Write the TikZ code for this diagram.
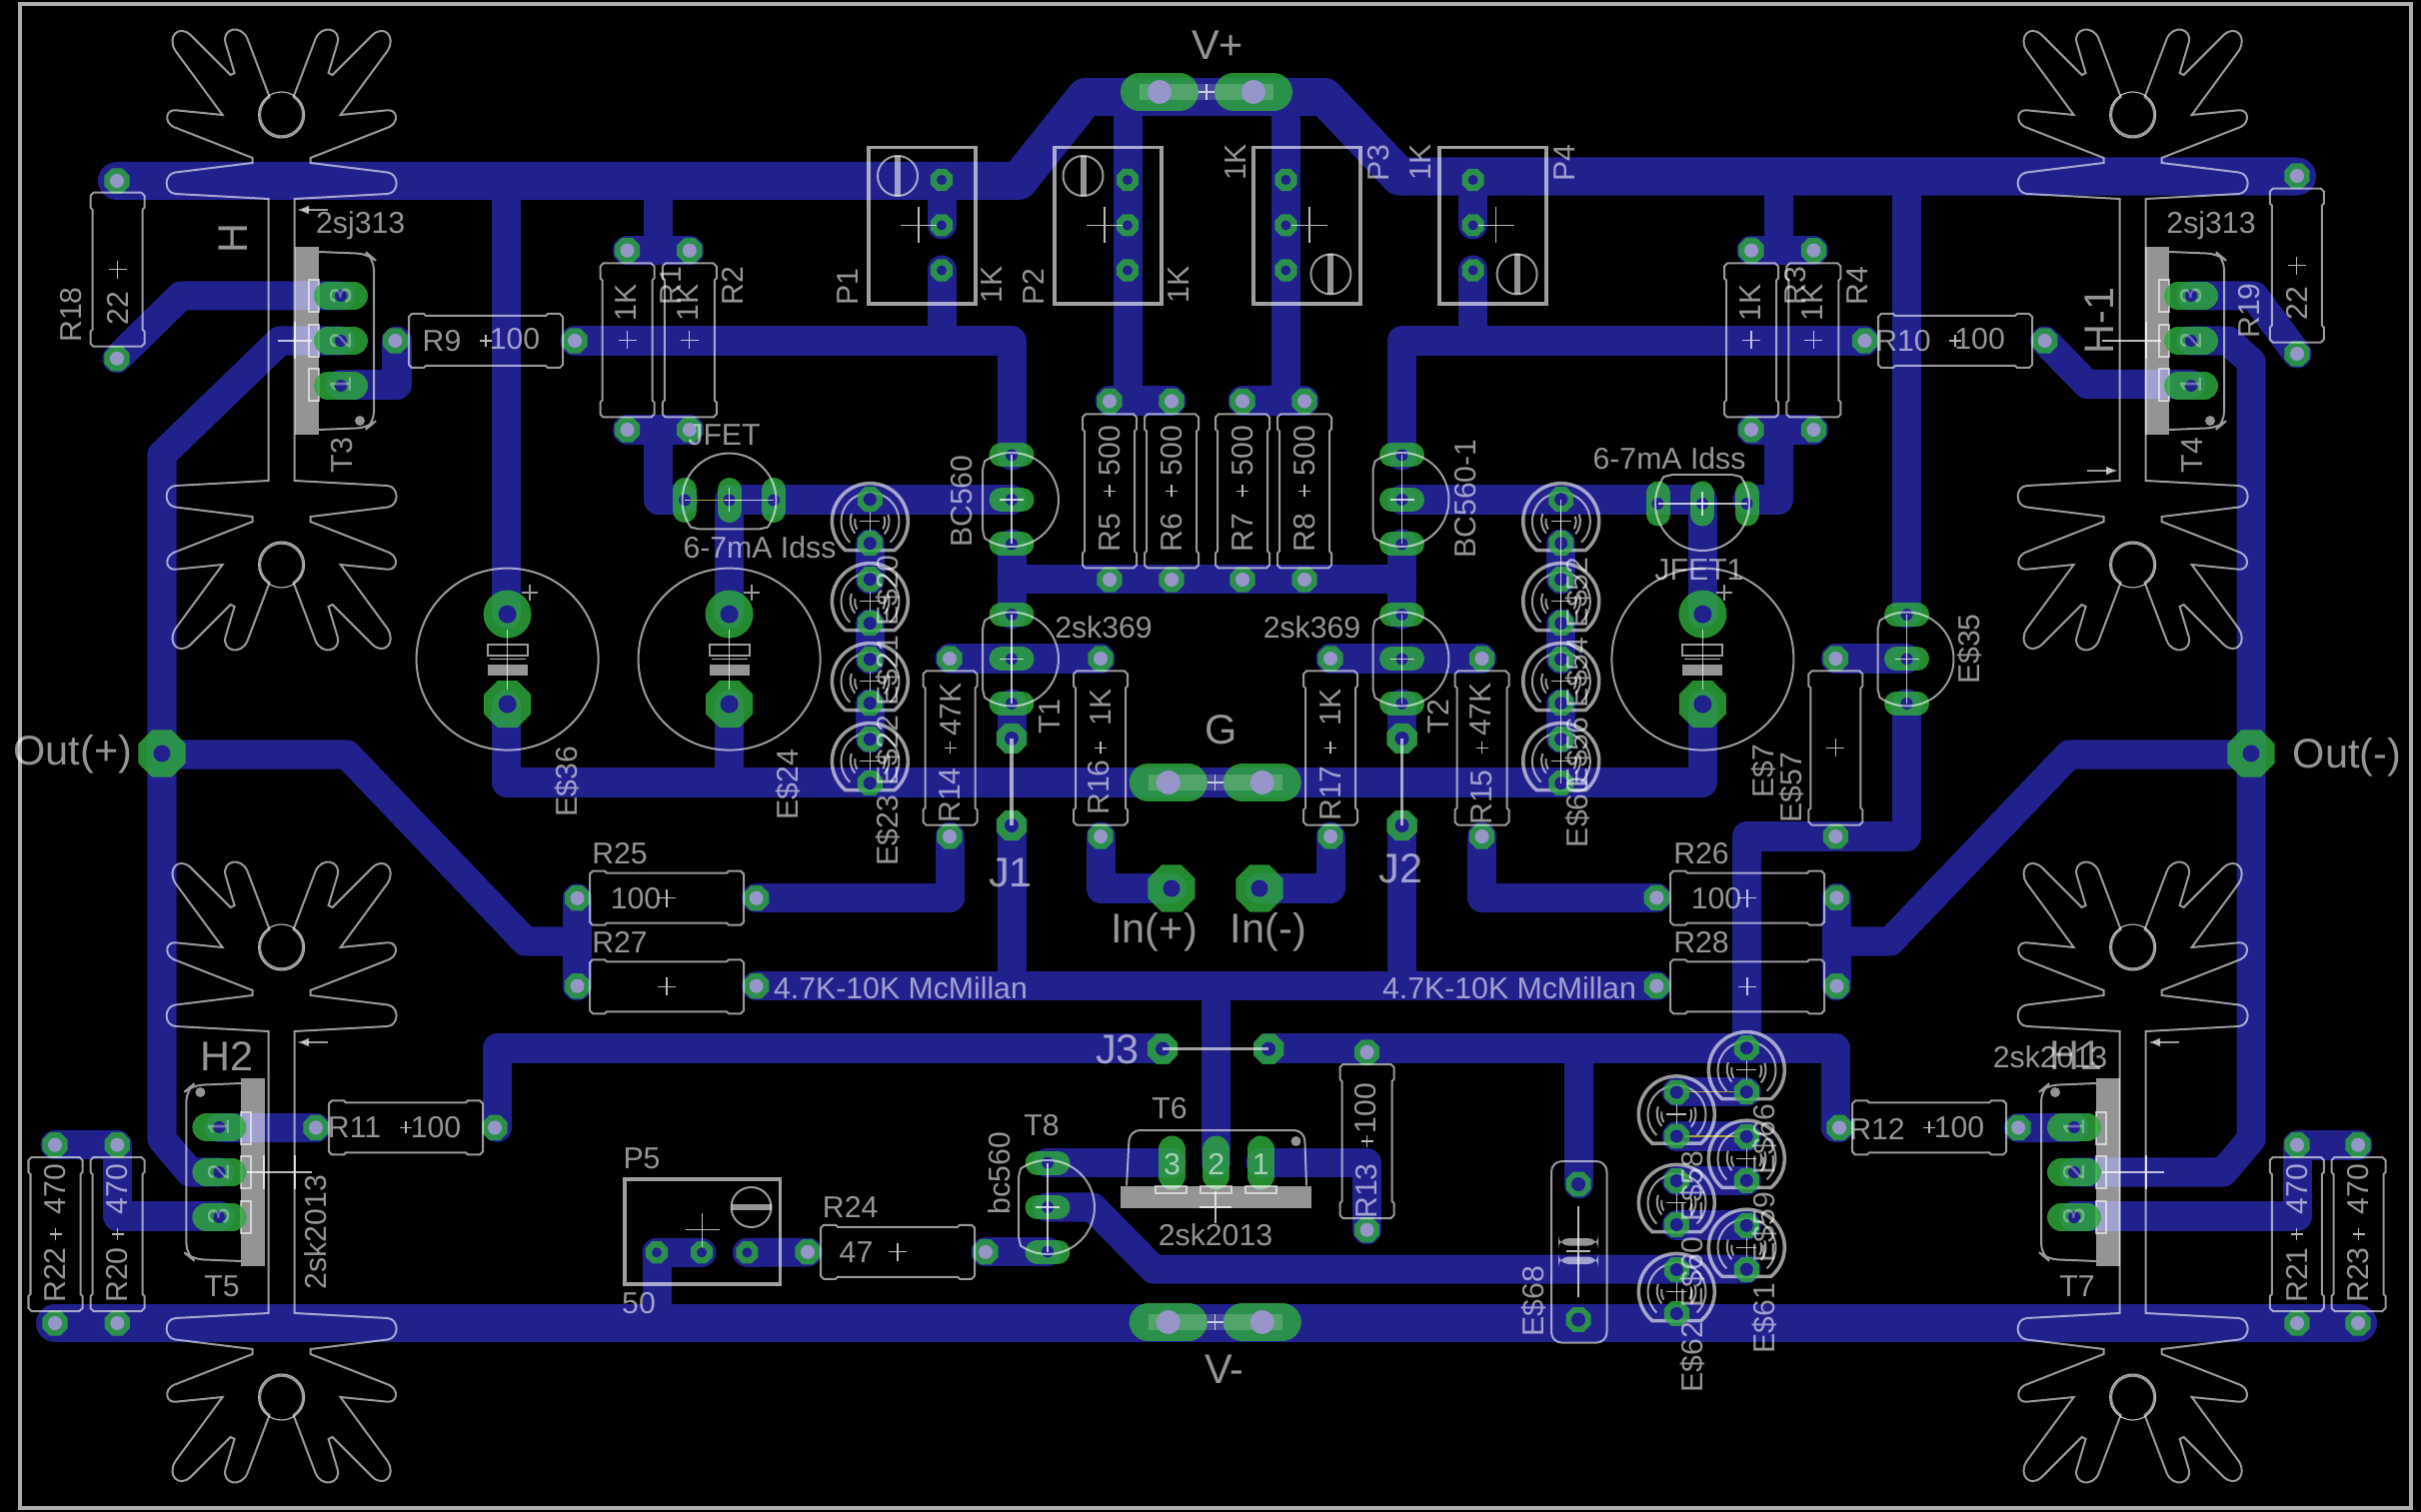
\documentclass[tikz,border=0pt]{standalone}
\usepackage{fontspec}
\usetikzlibrary{arrows.meta}
\setmainfont{Liberation Sans}
\newcommand{\lblfont}{\fontsize{8.6pt}{10pt}\selectfont}
\newcommand{\bigfont}{\fontsize{11.8pt}{13pt}\selectfont}
\definecolor{trackblue}{RGB}{33,33,141}
\definecolor{padgreen}{RGB}{46,170,60}
\definecolor{padhole}{RGB}{150,150,200}
\tikzset{
	track/.style={draw=trackblue,line width=0.29cm,line cap=round,line join=round},
	rail/.style={draw=trackblue,line width=0.38cm,line cap=round,line join=round},
	partline/.style={draw=white,draw opacity=.6,line width=0.02cm},
	boxline/.style={draw=white,draw opacity=.62,line width=0.032cm},
	hairline/.style={draw=white,draw opacity=.72,line width=0.011cm},
	padfill/.style={fill=padgreen,fill opacity=.82},
	tabfill/.style={fill=white,fill opacity=.58},
	marker/.style={partline,fill opacity=.6,-{Latex[length=0.12cm,width=0.09cm]}},
	lbl/.style={text=white,text opacity=.58,font=\lblfont,inner sep=0pt},
	vlbl/.style={lbl,rotate=90},
	pinlbl/.style={vlbl,text opacity=.35},
	biglbl/.style={text=white,text opacity=.58,font=\bigfont,inner sep=0pt},
	bigvlbl/.style={biglbl,rotate=90}
}
\newcommand{\crs}[3]{\draw[hairline] (#1-#3,#2) -- (#1+#3,#2) (#1,#2-#3) -- (#1,#2+#3);}
% pad with an 8-sided copper ring: x, y, ring radius, hole radius, hole colour
\newcommand{\octa}[5]{
	\fill[padfill] (#1,#2) +(22.5:#3) -- +(67.5:#3) -- +(112.5:#3) -- +(157.5:#3) -- +(202.5:#3) -- +(247.5:#3) -- +(292.5:#3) -- +(337.5:#3) -- cycle;
	\fill[#5] (#1,#2) circle[radius=#4];
}
\newcommand{\rpad}[2]{\octa{#1}{#2}{13.7}{7}{padhole}}
\newcommand{\ppad}[2]{\octa{#1}{#2}{12}{5}{trackblue}}
\newcommand{\oblpad}[4]{
	\draw[draw=padgreen,draw opacity=.82,line width=#4*0.01cm,line cap=round] (#1-#3/2+#4/2,#2) -- (#1+#3/2-#4/2,#2);
	\fill[trackblue] (#1,#2) circle[radius=6];
}
% x, y, rotation, size of the centre cross
\newcommand{\resbody}[4]{
	\begin{scope}[shift={(#1,#2)},rotate=#3]
	\draw[partline] (-77,-24) -- (-74,-27) -- (-62,-27) -- (-60,-25) -- (60,-25) -- (62,-27) -- (74,-27) -- (77,-24) -- (77,24) -- (74,27) -- (62,27) -- (60,25) -- (-60,25) -- (-62,27) -- (-74,27) -- (-77,24) -- cycle;
	\crs{0}{0}{#4}
	\end{scope}
}
\newcommand{\heatsink}[2]{
	\begin{scope}[shift={(#1,#2)}]
	\foreach \sx/\sy in {1/1,-1/1,1/-1,-1/-1}{
		\begin{scope}[xscale=\sx,yscale=\sy]
		\draw[partline] (13,0) -- (13,-141) -- (106,-146) .. controls (118,-147) and (118,-166) .. (106,-167.5) -- (29,-177) -- (29,-182) -- (108,-213) .. controls (118,-218) and (116,-232) .. (104,-229.5) -- (59,-225) -- (106,-289) .. controls (115,-303) and (103,-316) .. (91,-305) -- (51,-265) -- (47,-267) -- (56,-297) .. controls (60,-312) and (40,-316) .. (34,-301) -- (12,-243) arc[start angle=-56,end angle=90,radius=21.5];
		\end{scope}
	}
	\draw[hairline] (0,-225) circle[radius=23];
	\draw[hairline] (0,225) circle[radius=23];
	\end{scope}
}
\newcommand{\powerfet}[3]{
	\begin{scope}[shift={(#1,#2)},rotate=#3]
	\fill[tabfill] (-46,-94) rectangle (-22,94);
	\draw[partline,rounded corners=3] (-22,-89) -- (27,-87) -- (33,-82) -- (33,82) -- (27,87) -- (-22,89);
	\draw[partline] (-32,-61) rectangle (-22,-29);
	\draw[partline] (-32,-16) rectangle (-22,16);
	\draw[partline] (-32,28) rectangle (-22,60);
	\fill[tabfill] (19,80) circle[radius=5];
	\oblpad{0}{-45}{54}{28}
	\oblpad{0}{0}{54}{28}
	\oblpad{0}{45}{54}{28}
	\end{scope}
}
\newcommand{\tonine}[3]{
	\begin{scope}[shift={(#1,#2)},rotate=#3]
	\oblpad{0}{-44.5}{45}{24}
	\oblpad{0}{0}{45}{24}
	\oblpad{0}{44.5}{45}{24}
	\draw[partline] (-29,-30) -- (-27,-38.5) arc[start angle=-125,end angle=125,radius=47] -- (-29,30) -- cycle;
	\draw[hairline] (0,-44.5) -- (0,44.5);
	\crs{0}{0}{12}
	\end{scope}
}
\newcommand{\elcap}[2]{
	\fill[padfill] (#1,#2-45) circle[radius=24];
	\fill[trackblue] (#1,#2-45) circle[radius=9];
	\octa{#1}{#2+45}{25.5}{9}{trackblue}
	\draw[partline] (#1,#2) circle[radius=91];
	\draw[partline] (#1-20,#2-15) rectangle (#1+20,#2-4);
	\fill[tabfill] (#1-20,#2+5) rectangle (#1+20,#2+16);
	\draw[hairline] (#1-18,#2) -- (#1+18,#2) (#1,#2-30) -- (#1,#2+30);
	\draw[partline] (#1+14,#2-67) -- (#1+30,#2-67) (#1+22,#2-75) -- (#1+22,#2-59);
}
\newcommand{\smcap}[2]{
	\begin{scope}[shift={(#1,#2)}]
	\draw[draw=white,draw opacity=.6,line width=0.035cm] (-24.4,29) arc[start angle=130,end angle=410,radius=38] -- cycle;
	\draw[partline] (-20,21) arc[start angle=134,end angle=406,radius=29];
	\draw[partline] (-15,12) arc[start angle=140,end angle=200,radius=20] (18,-7) arc[start angle=-20,end angle=40,radius=20];
	\draw[partline] (-13,8) arc[start angle=148,end angle=190,radius=15] (14,-5) arc[start angle=-20,end angle=30,radius=15];
	\crs{0}{0}{10}
	\octa{0}{-22}{13.5}{6.5}{trackblue}
	\octa{0}{22}{13.5}{6.5}{trackblue}
	\end{scope}
}
\newcommand{\trimpot}[5]{
	\draw[boxline] (#1,147.5) rectangle (#1+107,304);
	\ppad{#2}{180}
	\ppad{#2}{225.4}
	\ppad{#2}{270.5}
	\crs{#3}{225.4}{18}
	\draw[partline] (#4,#5) circle[radius=20];
	\fill[tabfill] (#4-3,#5-20) rectangle (#4+3,#5+20);
}
\newcommand{\longpad}[2]{
	\oblpad{#1-47}{#2}{78}{38}
	\oblpad{#1+47}{#2}{78}{38}
	\fill[white,fill opacity=.18] (#1-67,#2-8) rectangle (#1+67,#2+8);
	\fill[padhole] (#1-47,#2) circle[radius=12];
	\fill[padhole] (#1+47,#2) circle[radius=12];
	\crs{#1}{#2}{8}
}
\begin{document}
\begin{tikzpicture}[x=0.01cm,y=-0.01cm]
	\useasboundingbox (0,0) rectangle (2422,1513);
	\fill[black] (0,0) rectangle (2422,1513);
	\draw[draw=white,draw opacity=.68,line width=0.04cm] (20,4) rectangle (2412,1509);

	% tracks, supply rails first
	\draw[rail] (117,181) -- (1019,181) -- (1086,97) -- (1325,97) -- (1400,176.5) -- (2298,176.5);
	\draw[rail] (55,1324) -- (2359,1324);
	\draw[track] (506.6,181) -- (506.6,614);
	\draw[track] (506.6,705) -- (506.6,783) -- (1703,783) -- (1703,705);
	\draw[track] (729.6,705) -- (729.6,783);
	\draw[track] (729.6,614) -- (729.6,500) -- (1012,500);
	\draw[track] (658,181) -- (658,250);
	\draw[track] (627.5,250.6) -- (689.8,250.6);
	\draw[track] (627.5,430) -- (689.8,430);
	\draw[track] (658,430) -- (658,500) -- (684,500);
	\draw[track] (1703,614) -- (1703,500) -- (1402.5,500);
	\draw[track] (1748,500) -- (1779,500) -- (1779,430);
	\draw[track] (1752,430) -- (1814.4,430);
	\draw[track] (1779,176.5) -- (1779,250);
	\draw[track] (1752,250.6) -- (1814.4,250.6);
	\draw[track] (575,341) -- (1012,341) -- (1012,456);
	\draw[track] (942,181) -- (942,225);
	\draw[track] (942,270) -- (942,341);
	\draw[track] (1128,97) -- (1128,401);
	\draw[track] (1110,401) -- (1172,401);
	\draw[track] (1286.4,97) -- (1286.4,401);
	\draw[track] (1243,401) -- (1305,401);
	\draw[track] (1012,544) -- (1012,615);
	\draw[track] (1012,579.5) -- (1402.5,579.5);
	\draw[track] (1402.5,544) -- (1402.5,615);
	\draw[track] (950,659) -- (1101,659);
	\draw[track] (1331,659) -- (1482.5,659);
	\draw[track] (1012,704) -- (1012,739);
	\draw[track] (1402.5,704) -- (1402.5,739);
	\draw[track] (1012,826) -- (1012,986.5);
	\draw[track] (1402.5,826) -- (1402.5,986.5);
	\draw[track] (756.6,986.7) -- (1657.3,986.7);
	\draw[track] (1216,986.7) -- (1216,1163.5);
	\draw[track] (756.6,898.8) -- (950,898.8) -- (950,837);
	\draw[track] (1101,837) -- (1101,889) -- (1172,889);
	\draw[track] (1331,837) -- (1331,889) -- (1260,889);
	\draw[track] (1482.5,837) -- (1482.5,898.3) -- (1657.3,898.3);
	\draw[track] (1865.5,341) -- (1402.5,341) -- (1402.5,456);
	\draw[track] (1473.6,176.5) -- (1473.6,225);
	\draw[track] (1473.6,270) -- (1473.6,341);
	\draw[track] (2045.6,341) -- (2088,384.5) -- (2192,384.5);
	\draw[track] (2192,296) -- (2255,296) -- (2298,354);
	\draw[track] (2192,341) -- (2229,341) -- (2252,362) -- (2252,1140) -- (2224,1173) -- (2075,1173);
	\draw[track] (2075,1217) -- (2298,1217) -- (2298,1146) -- (2359,1146);
	\draw[track] (2019,1128.4) -- (2075,1128.4);
	\draw[track] (1840,1128.4) -- (1836,1128.4) -- (1836,1049) -- (1269,1049);
	\draw[track] (497.4,1128.4) -- (497.4,1049) -- (1163,1049);
	\draw[track] (316,1128.4) -- (219.4,1128.4);
	\draw[track] (341,341) -- (280,341) -- (162,455) -- (162,1140) -- (190,1173) -- (219.4,1173);
	\draw[track] (162,755) -- (347,755) -- (525.5,942) -- (577.5,942);
	\draw[track] (577.5,898.8) -- (577.5,986.7);
	\draw[track] (1837.4,898.3) -- (1837.4,986.7);
	\draw[track] (1837.4,942) -- (1891,942) -- (2070,755) -- (2252,755);
	\draw[track] (219.4,1217) -- (117.3,1217) -- (117.3,1145.7) -- (55,1145.7);
	\draw[track] (341,296) -- (181,296) -- (117,358.7);
	\draw[track] (341,385) -- (397,385) -- (397,341);
	\draw[track] (657,1253.3) -- (702,1253.3);
	\draw[track] (657,1253.3) -- (657,1324);
	\draw[track] (747.4,1253.3) -- (808,1253);
	\draw[track] (986,1252.8) -- (1048,1252.8);
	\draw[track] (1048,1208) -- (1093,1208) -- (1154,1270) -- (1747,1270);
	\draw[track] (1048,1163.5) -- (1172,1163.5);
	\draw[track] (1261,1163.5) -- (1367.5,1163.5) -- (1367.5,1230.7);
	\draw[track] (1579,1049) -- (1579,1185);
	\draw[track] (1907,176.5) -- (1907,614);
	\draw[track] (1907,704) -- (1907,837) -- (1747.3,837) -- (1747.3,1049);
	\draw[track] (1836.4,659) -- (1907,659);
	\foreach \y in {1092.6,1137,1181.7,1226}{
		\draw[track] (1677.3,\y) -- (1747.3,\y);
	}
	\foreach \x in {870.3,1561.7}{
		\draw[track] (\x,544) -- (\x,580);
		\draw[track] (\x,624) -- (\x,660);
		\draw[track] (\x,704) -- (\x,739);
	}

	% resistor pads
	\foreach \x/\y in {117/181,117/358.7,395.4/341,575/341,627.5/250.6,627.5/430,689.8/250.6,689.8/430,1752/250.6,1752/430,1814.4/250.6,1814.4/430,1865.5/341,2045.6/341,2298/176,2298/354,1110/401.4,1110/580,1172/401.4,1172/580,1243/401.4,1243/580,1305/401.4,1305/580,950/659,950/837,1101/659,1101/837,1331/659,1331/837,1482.5/659,1482.5/837,1836.4/659,1836.4/837,577.5/898.8,756.6/898.8,577.5/986.7,756.6/986.7,1657.3/898.3,1837.4/898.3,1657.3/986.7,1837.4/986.7,316/1128.4,495/1128.4,1840/1128.4,2019/1128.4,55/1145.7,55/1324,117.3/1145.7,117.3/1324,2298/1145.7,2298/1324,2359/1145.7,2359/1324,808/1252.8,986/1252.8,1367.5/1053,1367.5/1230.7}{
		\rpad{\x}{\y}
	}
	\foreach \x/\y in {1012/739,1012/826,1402.5/739,1402.5/826,1163/1049.6,1269/1049.6}{
		\octa{\x}{\y}{16.5}{7}{trackblue}
	}
	\foreach \x/\y in {162/754,2252/754,1172/889,1260/889}{
		\octa{\x}{\y}{25.5}{8.5}{trackblue}
	}
	\foreach \x in {657,702,747.4}{
		\ppad{\x}{1253.3}
	}

	\longpad{1207}{92}
	\longpad{1215.8}{783}
	\longpad{1215.8}{1323}

	% heat sinks and their transistors
	\heatsink{281.6}{340}
	\heatsink{2133.6}{340}
	\heatsink{281.6}{1173}
	\heatsink{2133.6}{1173}
	\powerfet{341}{341}{0}
	\powerfet{2192}{341}{0}
	\powerfet{219.4}{1173}{180}
	\powerfet{2075}{1173}{180}
	\draw[marker] (327.5,210) -- (297,210);
	\draw[marker] (2088,471) -- (2119,471);
	\draw[marker] (327.5,1043) -- (297,1043);
	\draw[marker] (2180,1043) -- (2149,1043);
	\draw[hairline] (278,341) -- (312,341) (295,322) -- (295,359);
	\draw[hairline] (2103,341) -- (2162,341) (2147,322) -- (2147,359);
	\draw[hairline] (247,1173) -- (312,1173) (295,1156) -- (295,1190) (264,1156) -- (264,1190);
	\draw[hairline] (2103,1173) -- (2165,1173) (2147,1156) -- (2147,1190);

	% trimmers
	\trimpot{869}{942}{919}{898}{176}
	\trimpot{1055}{1128}{1105}{1083.5}{176}
	\trimpot{1254}{1286.4}{1310}{1331.4}{274.4}
	\trimpot{1440}{1473.6}{1496.6}{1517.6}{274.4}
	\draw[boxline] (625,1180) rectangle (780.6,1285);
	\crs{702.5}{1230.7}{17}
	\draw[partline] (751.5,1208) circle[radius=20];
	\fill[tabfill] (731.5,1205) rectangle (771.5,1211);

	% resistor bodies
	\resbody{117.5}{269.7}{90}{9}
	\resbody{2297.8}{265.6}{90}{9}
	\resbody{486}{341}{0}{6}
	\resbody{1956}{341}{0}{6}
	\foreach \x in {627.5,689.8,1752,1814.4}{
		\resbody{\x}{340.5}{90}{9}
	}
	\foreach \x in {1110,1172,1243,1305}{
		\resbody{\x}{491.5}{90}{6}
	}
	\foreach \x in {950.5,1101,1331,1482.5}{
		\resbody{\x}{748.5}{90}{6}
	}
	\resbody{1836.4}{748.5}{90}{9}
	\resbody{667}{898.6}{0}{9}
	\resbody{667}{987.3}{0}{9}
	\resbody{1748}{898.6}{0}{9}
	\resbody{1748}{987.3}{0}{9}
	\resbody{406}{1128.4}{0}{6}
	\resbody{1930}{1128.4}{0}{6}
	\foreach \x in {55.5,117.5,2297.8,2359.5}{
		\resbody{\x}{1235}{90}{6}
	}
	\resbody{898}{1252.8}{0}{9}
	\resbody{1367.5}{1142}{90}{6}

	% small transistors
	\tonine{1012}{500}{0}
	\tonine{1402.5}{500}{0}
	\tonine{1012}{659.5}{0}
	\tonine{1402.5}{659.5}{0}
	\tonine{1907.5}{659.5}{0}
	\tonine{1048}{1208}{0}
	\tonine{729.5}{500.5}{90}
	\tonine{1703}{504}{-90}
	\draw[draw=yellow!60!black,line width=0.012cm] (690,500.5) -- (725,500.5);
	\draw[draw=yellow!60!black,line width=0.012cm] (1685,1092.6) -- (1740,1092.6);
	\draw[draw=yellow!60!black,line width=0.012cm] (1685,1137) -- (1740,1137);

	% capacitors
	\elcap{507.6}{659.6}
	\elcap{729.6}{659.6}
	\elcap{1703.4}{659.6}
	\foreach \x in {870.3,1561.7}{
		\foreach \y in {521.7,601.7,681.7,761.7}{
			\smcap{\x}{\y}
		}
	}
	\draw[hairline] (1561.7,500) -- (1561.7,784);
	\foreach \y in {1070.7,1159.3,1248.3}{
		\smcap{1747.3}{\y}
	}
	\foreach \y in {1115,1203.5,1292.5}{
		\smcap{1677.3}{\y}
	}
	\draw[partline,rounded corners=3] (1552,1162) rectangle (1607.5,1343.6);
	\octa{1579}{1185}{13.5}{7}{trackblue}
	\octa{1579}{1320.5}{13.5}{7}{trackblue}
	\fill[tabfill,rounded corners=3] (1559,1239) rectangle (1599,1246.5);
	\fill[tabfill,rounded corners=3] (1559,1257.5) rectangle (1599,1265);
	\draw[hairline] (1579,1207) -- (1579,1298) (1567,1252) -- (1591,1252);

	% jumpers
	\draw[boxline] (1163,1049.6) -- (1269,1049.6);
	\draw[boxline] (1012,739) -- (1012,826);
	\draw[boxline] (1402.5,739) -- (1402.5,826);

	% T6 lying down
	\foreach \x in {1172.4,1216.8,1261.3}{
		\draw[draw=padgreen,draw opacity=.82,line width=0.27cm,line cap=round] (\x,1150) -- (\x,1177);
	}
	\fill[tabfill] (1121,1186.5) rectangle (1311.5,1209);
	\draw[partline,rounded corners=3] (1127,1186.5) -- (1130,1131) -- (1305,1131) -- (1307,1186.5);
	\draw[partline] (1156,1186.5) rectangle (1187,1194);
	\draw[partline] (1201,1186.5) rectangle (1232,1194);
	\draw[partline] (1246,1186.5) rectangle (1277,1194);
	\fill[tabfill] (1296.5,1142) circle[radius=5];
	\crs{1216}{1208}{16}

	% labels
	\node[biglbl] (vplus) at (1218,45) {V+};
	\node[biglbl] (vminus) at (1225,1370) {V-};
	\node[biglbl] (gnd) at (1221.5,730.5) {G};
	\node[biglbl] (outp) at (73,755) {Out(+)};
	\node[biglbl] (outm) at (2348,758) {Out(-)};
	\node[biglbl] (inp) at (1154.6,933) {In(+)};
	\node[biglbl] (inm) at (1269,933) {In(-)};
	\node[biglbl] (jone) at (1011,873) {J1};
	\node[biglbl] (jtwo) at (1401.5,869.5) {J2};
	\node[biglbl] (jthree) at (1118,1050.6) {J3};
	\node[bigvlbl] (hzero) at (233,239) {H};
	\node[bigvlbl] (hminus) at (2100,321) {H-1};
	\node[biglbl] (htwo) at (227,1057) {H2};
	\node[biglbl] (hone) at (2077,1056) {H1};
	\node[vlbl] (rone8) at (71.4,315) {R18};
	\node[vlbl] (vone8) at (118,309) {22};
	\node[vlbl] (rone9) at (2250,311) {R19};
	\node[vlbl] (vone9) at (2298,304) {22};
	\node[lbl] (tsj) at (360.7,225.4) {2sj313};
	\node[lbl] (tsjb) at (2212,225.4) {2sj313};
	\node[vlbl] (tthree) at (342,455.6) {T3};
	\node[vlbl] (tfour) at (2193,455.6) {T4};
	\node[lbl] (rnine) at (442,341) {R9};
	\node[lbl] (vnine) at (515,339) {100};
	\node[lbl] (rten) at (1904,341) {R10};
	\node[lbl] (vten) at (1980.6,339) {100};
	\node[vlbl] (vra) at (626.5,303) {1K};
	\node[vlbl] (rra) at (671,286) {R1};
	\node[vlbl] (vrb) at (688,303) {1K};
	\node[vlbl] (rrb) at (733,286) {R2};
	\node[vlbl] (vrc) at (1751,303) {1K};
	\node[vlbl] (rrc) at (1796.5,286) {R3};
	\node[vlbl] (vrd) at (1813,303) {1K};
	\node[vlbl] (rrd) at (1858,286) {R4};
	\node[lbl] (jfeta) at (724.5,435) {JFET};
	\node[lbl] (jfetb) at (1700,570) {JFET1};
	\node[lbl] (idssa) at (760,548) {6-7mA Idss};
	\node[lbl] (idssb) at (1670,459) {6-7mA Idss};
	\node[vlbl] (pa) at (848,287) {P1};
	\node[vlbl] (va) at (992,285) {1K};
	\node[vlbl] (pb) at (1034,287) {P2};
	\node[vlbl] (vb) at (1179,285) {1K};
	\node[vlbl] (vc) at (1235.7,162.4) {1K};
	\node[vlbl] (pc) at (1379,163.4) {P3};
	\node[vlbl] (vd) at (1421,162.4) {1K};
	\node[vlbl] (pd) at (1565,163.4) {P4};
	\node[lbl] (pe) at (642,1159.6) {P5};
	\node[lbl] (ve) at (639,1304) {50};
	\node[vlbl] (bca) at (962,501.7) {BC560};
	\node[vlbl] (bcb) at (1466,499) {BC560-1};
	\node[vlbl] (bcc) at (1000,1174) {bc560};
	\node[lbl] (skb) at (1104,627.7) {2sk369};
	\node[lbl] (skc) at (1312.5,627.7) {2sk369};
	\node[vlbl] (tone) at (1050,717) {T1};
	\node[vlbl] (ttwo) at (1439,717) {T2};
	\foreach \x/\n in {1110/5,1172/6,1243/7,1305/8}{
		\node[vlbl] (val\n) at (\x,450.8) {500};
		\node[vlbl] (res\n) at (\x,533) {R\n};
	}
	\node[vlbl] (vfourteen) at (950.6,710) {47K};
	\node[vlbl] (rfourteen) at (950,796) {R14};
	\node[vlbl] (vsixteen) at (1100.7,708) {1K};
	\node[vlbl] (rsixteen) at (1099,788) {R16};
	\node[vlbl] (vseventeen) at (1331,708) {1K};
	\node[vlbl] (rseventeen) at (1331,794) {R17};
	\node[vlbl] (vfifteen) at (1481.5,710) {47K};
	\node[vlbl] (rfifteen) at (1482,798) {R15};
	\node[lbl] (rtf) at (620,853.7) {R25};
	\node[lbl] (rts) at (620,943) {R27};
	\node[lbl] (rtsx) at (1702,853.7) {R26};
	\node[lbl] (rte) at (1702,943) {R28};
	\node[lbl] (vtf) at (636,899) {100};
	\node[lbl] (vtsx) at (1717,899) {100};
	\node[lbl] (mca) at (901,988.5) {4.7K-10K McMillan};
	\node[lbl] (mcb) at (1510,988.5) {4.7K-10K McMillan};
	\node[lbl] (releven) at (354.6,1128) {R11};
	\node[lbl] (veleven) at (436,1128) {100};
	\node[lbl] (rtwelve) at (1878,1130) {R12};
	\node[lbl] (vtwelve) at (1960,1128) {100};
	\node[lbl] (tfive) at (222,1287) {T5};
	\node[lbl] (tseven) at (2078,1287) {T7};
	\node[vlbl] (skd) at (316,1233) {2sk2013};
	\node[lbl] (ske) at (2051,1058) {2sk2013};
	\node[lbl] (skf) at (1216,1235.5) {2sk2013};
	\node[lbl] (tsix) at (1170,1109) {T6};
	\node[lbl] (teight) at (1042,1126) {T8};
	\node[lbl] (rtfour) at (850.7,1207.6) {R24};
	\node[lbl] (vtfour) at (856.5,1252.8) {47};
	\node[vlbl] (vthirteen) at (1366,1109) {100};
	\node[vlbl] (rthirteen) at (1367.5,1192) {R13};
	\foreach \x/\n/\v in {55/22/470,117/20/470,2298/21/470,2359/23/470}{
		\node[vlbl] (val\n) at (\x,1190) {\v};
		\node[vlbl] (res\n) at (\x,1276) {R\n};
	}
	\node[vlbl] (esa) at (567,782) {E\$36};
	\node[vlbl] (esb) at (788,785) {E\$24};
	\node[vlbl] (esc) at (888,831) {E\$23};
	\node[vlbl] (esd) at (888,751) {E\$22};
	\node[vlbl] (ese) at (888,671) {E\$21};
	\node[vlbl] (esf) at (888,591) {E\$20};
	\node[vlbl] (esg) at (1578,812.7) {E\$60};
	\node[vlbl] (esh) at (1578,752.7) {E\$56};
	\node[vlbl] (esi) at (1578,672.7) {E\$54};
	\node[vlbl] (esj) at (1578,592.7) {E\$52};
	\node[vlbl] (esk) at (1970,649.5) {E\$35};
	\node[vlbl] (esl) at (1764,772) {E\$7};
	\node[vlbl] (esm) at (1792,788) {E\$57};
	\node[vlbl] (esn) at (1534,1302) {E\$68};
	\node[vlbl] (eso) at (1765,1319) {E\$61};
	\node[vlbl] (esp) at (1765,1228) {E\$59};
	\node[vlbl] (esq) at (1765,1140) {E\$66};
	\node[vlbl] (esr) at (1693,1358) {E\$62};
	\node[vlbl] (ess) at (1693,1273) {E\$60};
	\node[vlbl] (est) at (1693,1187) {E\$58};
	% pin numbers
	\foreach \x/\y/\n in {341/296/3,341/341/2,341/385/1,2192/296/3,2192/341/2,2192/385/1,219/1128/1,219/1173/2,219/1217/3,2075/1128/1,2075/1173/2,2075/1217/3}{
		\node[pinlbl] (pin\x\n) at (\x,\y) {\n};
	}
	\node[lbl] (pinsa) at (1172.4,1165) {3};
	\node[lbl] (pinsb) at (1216.8,1165) {2};
	\node[lbl] (pinsc) at (1261.3,1165) {1};
\end{tikzpicture}
\end{document}
